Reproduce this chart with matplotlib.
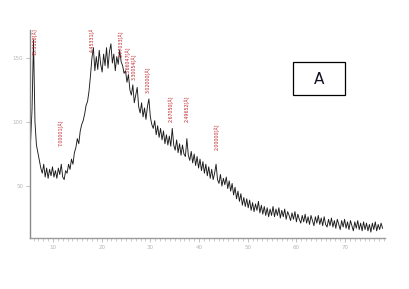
import numpy as np
import matplotlib
matplotlib.use("Agg")
import matplotlib.pyplot as plt
from matplotlib.patches import Rectangle
from matplotlib.ticker import MultipleLocator

# ---- data -------------------------------------------------------------
two_theta_start = 5.4
two_theta_step = 0.3

intensity = [
    # 5.4 - 7.5
    85, 110, 164, 100, 82, 76, 70, 64,
    # 7.8 - 12.6
    60, 67, 57, 64, 56, 63, 58, 65, 57, 62, 56, 64, 59, 67, 57, 55, 62,
    # 12.9 - 18.3
    60, 67, 63, 71, 67, 76, 80, 87, 83, 93, 98, 101, 106, 113, 116, 124, 136, 150, 158,
    # 18.6 - 24.6
    140, 151, 141, 156, 145, 139, 153, 144, 158, 142, 155, 161, 146, 153, 140, 151, 145, 156, 147, 144, 138,
    # 24.9 - 29.7
    140, 131, 137, 125, 121, 129, 115, 121, 127, 112, 107, 115, 104, 111, 102, 112, 118,
    # 30.0 - 34.8
    104, 98, 95, 101, 90, 97, 88, 95, 86, 93, 83, 90, 82, 89, 81, 95, 82,
    # 35.1 - 39.9
    78, 86, 76, 83, 74, 82, 75, 73, 87, 74, 70, 77, 68, 75, 66, 73, 64,
    # 40.2 - 45.0
    71, 62, 69, 60, 67, 58, 65, 56, 63, 55, 60, 67, 55, 52, 59, 50, 56,
    # 45.3 - 50.1
    51, 57, 48, 54, 46, 52, 43, 49, 40, 46, 38, 44, 35, 41, 34, 40, 33,
    # 50.4 - 55.2
    39, 31, 37, 30, 36, 31, 38, 29, 35, 28, 34, 27, 33, 26, 32, 27, 34,
    # 55.5 - 60.3
    26, 32, 27, 33, 25, 31, 26, 32, 24, 30, 27, 23, 29, 24, 30, 22, 28,
    # 60.6 - 65.4
    24, 21, 27, 22, 28, 21, 26, 20, 27, 23, 19, 26, 21, 27, 20, 25, 19,
    # 65.7 - 70.5
    26, 20, 18, 24, 19, 25, 18, 23, 17, 24, 20, 16, 23, 18, 24, 17, 22,
    # 70.8 - 75.6
    16, 23, 19, 15, 22, 17, 23, 16, 21, 15, 22, 16, 21, 15, 20, 14, 21,
    # 75.9 - 77.7
    16, 22, 15, 20, 16, 21, 17,
]

peak_labels = ["15.3188[Å]", "7.00001[Å]", "4.45331[Å]", "3.77033[Å]", "3.66047[Å]",
               "3.30054[Å]", "3.02000[Å]", "2.67050[Å]", "2.49652[Å]", "2.00000[Å]"]
peak_positions = [6.3, 11.6, 18.2, 24.0, 25.4, 26.8, 29.5, 34.4, 37.5, 43.7]
peak_label_bottoms = [152, 81, 155, 151, 138, 133, 123, 100, 100, 78]

x_ticks = [10, 20, 30, 40, 50, 60, 70]
y_ticks = [50, 100, 150]
panel_letter = "A"

# ---- plot -------------------------------------------------------------
two_theta = two_theta_start + two_theta_step * np.arange(len(intensity))

fig = plt.figure(figsize=(4.09, 2.89), dpi=100)
ax = fig.add_axes([30/409, 1-238/289, (385-30)/409, (238-30)/289])

ax.plot(two_theta, intensity, color="#1a1a1a", lw=0.65)

ax.set_xlim(5.28, 78.2)
ax.set_ylim(9.4, 171.8)

for s in ["top", "right"]:
    ax.spines[s].set_visible(False)
ax.spines["left"].set_color("#8a8a8a")
ax.spines["bottom"].set_color("#9a9a9a")
ax.spines["left"].set_linewidth(1.0)
ax.spines["bottom"].set_linewidth(1.0)

ax.set_xticks(x_ticks)
ax.set_yticks(y_ticks)
ax.xaxis.set_minor_locator(MultipleLocator(1))
ax.tick_params(axis="both", which="major", labelsize=4, colors="#b5b5b5",
               length=3, width=0.6, pad=2)
ax.tick_params(axis="x", which="minor", length=2, width=0.5, colors="#b5b5b5")

for lab, pos, yb in zip(peak_labels, peak_positions, peak_label_bottoms):
    ax.text(pos, yb, lab, rotation=90, ha="center", va="bottom",
            fontsize=3.4, color="#c0282d", clip_on=True)

fig.patches.append(Rectangle((293/409, 1-95/289), 52/409, 33/289,
                             transform=fig.transFigure, fill=False,
                             edgecolor="black", lw=0.9))
fig.text(319/409, 1-79/289, panel_letter, ha="center", va="center",
         fontsize=11, color="#111122")

fig.savefig("out.png", dpi=100)
